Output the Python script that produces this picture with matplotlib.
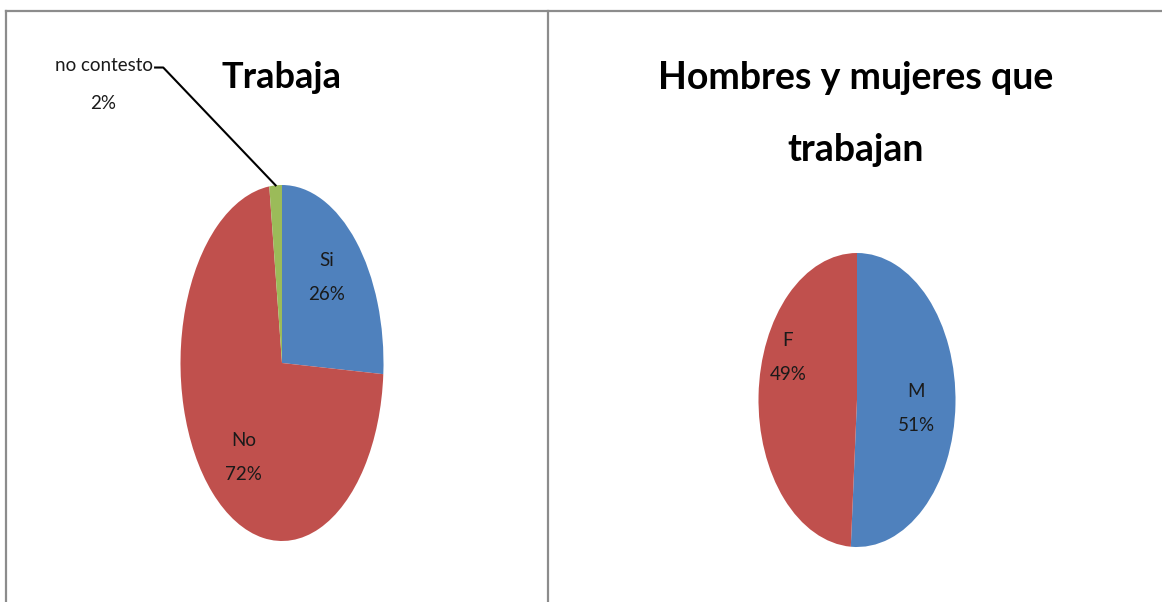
import numpy as np
import matplotlib
matplotlib.use("Agg")
import matplotlib.pyplot as plt
from matplotlib.lines import Line2D

plt.rcParams['font.family'] = ['Lato', 'DejaVu Sans']

# datos
trabaja_labels = ['Si', 'No', 'no contesto']
trabaja_pct = [26, 72, 2]
sexo_labels = ['M', 'F']
sexo_pct = [51, 49]

azul = '#4F81BD'
rojo = '#C0504D'
verde = '#9BBB59'

W, H = 1162, 602
fig = plt.figure(figsize=(W / 100, H / 100), dpi=100)


def px_axes(cx, cy, rx, ry):
    # axes box in pixels (from top-left) -> figure fraction
    return fig.add_axes([(cx - rx) / W, 1 - (cy + ry) / H, 2 * rx / W, 2 * ry / H])


# marco
grey = '#8c8c8c'
for xs, ys in [((6, W), (11, 11)), ((6, 6), (11, H)), ((548, 548), (11, H))]:
    fig.add_artist(Line2D([x / W for x in xs], [1 - y / H for y in ys],
                          color=grey, lw=1.6))

lblfont = dict(fontsize=13.5, ha='center', va='center', color='#1a1a1a',
               linespacing=2.2)

# ---- Trabaja
ax1 = px_axes(282, 363, 101.5, 178)
lab1 = [f'{l}\n{p}%' for l, p in zip(trabaja_labels, trabaja_pct)]
wedges, texts = ax1.pie(trabaja_pct, labels=[lab1[0], lab1[1], ''],
                        colors=[azul, rojo, verde], startangle=90,
                        counterclock=False, labeldistance=0.66,
                        textprops=lblfont, wedgeprops=dict(linewidth=0))
ax1.set_aspect('auto')
ax1.set_xlim(-1, 1)
ax1.set_ylim(-1, 1)
texts[0].set_position((0.44, 0.48))
texts[1].set_position((-0.38, -0.53))

# etiqueta con linea guia para "no contesto"
ang = np.radians((wedges[2].theta1 + wedges[2].theta2) / 2)
x0, y0 = np.cos(ang), np.sin(ang)
ax1.plot([x0, -1.17, -1.25], [y0, 1.66, 1.66], color='black', lw=1.5,
         clip_on=False)
ax1.text(-1.27, 1.67, trabaja_labels[2], fontsize=13.5, ha='right',
         va='center', color='#1a1a1a')
ax1.text(-1.76, 1.46, f'{trabaja_pct[2]}%', fontsize=13.5, ha='center',
         va='center', color='#1a1a1a')

fig.text(282 / W, 1 - 78 / H, 'Trabaja', fontsize=26, fontweight='bold',
         ha='center', va='center')

# ---- Hombres y mujeres
ax2 = px_axes(857, 400, 98.5, 147)
lab2 = [f'{l}\n{p}%' for l, p in zip(sexo_labels, sexo_pct)]
wedges2, texts2 = ax2.pie(sexo_pct, labels=lab2, colors=[azul, rojo],
                          startangle=90, counterclock=False, labeldistance=0.6,
                          textprops=lblfont, wedgeprops=dict(linewidth=0))
ax2.set_aspect('auto')
ax2.set_xlim(-1, 1)
ax2.set_ylim(-1, 1)
texts2[0].set_position((0.6, -0.06))
texts2[1].set_position((-0.7, 0.29))

fig.text(856 / W, 1 - 78 / H, 'Hombres y mujeres que', fontsize=27,
         fontweight='bold', ha='center', va='center')
fig.text(856 / W, 1 - 150 / H, 'trabajan', fontsize=27, fontweight='bold',
         ha='center', va='center')

fig.savefig('out.png', dpi=100, facecolor='white')
